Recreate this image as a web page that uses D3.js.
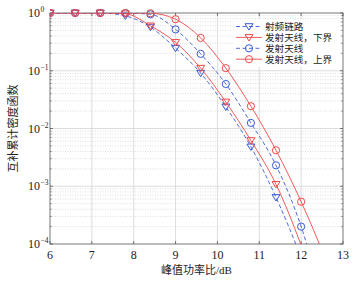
<!DOCTYPE html>
<html><head><meta charset="utf-8">
<script src="https://cdn.jsdelivr.net/npm/d3@7"></script>
<style>body{margin:0;background:#fff}svg{display:block}</style>
</head><body>
<script>
const xValues = [6, 6.6, 7.2, 7.8, 8.4, 9.0, 9.6, 10.2, 10.8, 11.4, 12.0, 12.6];
const rfChain   = [1, 1, 1, 0.89, 0.57, 0.246, 0.091, 0.0237, 0.0048, 0.00064, 0.000056, 0.0000025];
const txLower   = [1, 1, 1, 0.97, 0.60, 0.31, 0.111, 0.0288, 0.0062, 0.00108, 0.000095, 0.000005];
const txAntenna = [1, 1, 1, 0.995, 0.95, 0.52, 0.196, 0.059, 0.0125, 0.0023, 0.0002, 0.000006];
const txUpper   = [1, 1, 1, 1, 0.99, 0.78, 0.37, 0.111, 0.0243, 0.0042, 0.00054, 0.000052];
const seriesNames = ["射频链路", "发射天线，下界", "发射天线", "发射天线，上界"];
const xTicks = [6, 7, 8, 9, 10, 11, 12, 13];
const yTickExps = [0, -1, -2, -3, -4];

const W = 357, H = 282;
const m = {l: 50, r: 343, t: 13, b: 244};
const FONT_CJK = "'Liberation Serif', 'Noto Sans CJK SC'";
const svg = d3.select("body").append("svg").attr("width", W).attr("height", H);
const x = d3.scaleLinear().domain([6, 13]).range([m.l, m.r]);
const y = d3.scaleLog().domain([1e-4, 1]).range([m.b, m.t]);

svg.append("defs").append("clipPath").attr("id", "clip")
  .append("rect").attr("x", m.l).attr("y", m.t - 6).attr("width", m.r - m.l).attr("height", m.b - m.t + 6);
svg.append("defs").append("clipPath").attr("id", "clip2")
  .append("rect").attr("x", m.l).attr("y", m.t).attr("width", m.r - m.l).attr("height", m.b - m.t);

const g = svg.append("g");
for (let e = -4; e < 0; e++) {
  for (let k = 2; k <= 9; k++) {
    const v = k * Math.pow(10, e);
    g.append("line").attr("x1", m.l).attr("x2", m.r).attr("y1", y(v)).attr("y2", y(v))
      .attr("stroke", "#c8c8c8").attr("stroke-width", 0.6).attr("stroke-dasharray", "1,1.5");
  }
}
xTicks.slice(1, -1).forEach(t => {
  g.append("line").attr("x1", x(t)).attr("x2", x(t)).attr("y1", m.t).attr("y2", m.b)
    .attr("stroke", "#d4d4d4").attr("stroke-width", 0.8);
});
yTickExps.slice(1, -1).forEach(e => {
  g.append("line").attr("x1", m.l).attr("x2", m.r).attr("y1", y(Math.pow(10, e))).attr("y2", y(Math.pow(10, e)))
    .attr("stroke", "#d4d4d4").attr("stroke-width", 0.8);
});

const lg = {x: 233, y: 19, w: 106, h: 48};
svg.append("rect").attr("x", lg.x).attr("y", lg.y).attr("width", lg.w).attr("height", lg.h).attr("fill", "#fff");

svg.append("rect").attr("x", m.l).attr("y", m.t).attr("width", m.r - m.l).attr("height", m.b - m.t)
  .attr("fill", "none").attr("stroke", "#555").attr("stroke-width", 0.8);

xTicks.forEach(t => {
  svg.append("line").attr("x1", x(t)).attr("x2", x(t)).attr("y1", m.b).attr("y2", m.b - 3).attr("stroke", "#555").attr("stroke-width", 0.8);
  svg.append("line").attr("x1", x(t)).attr("x2", x(t)).attr("y1", m.t).attr("y2", m.t + 3).attr("stroke", "#555").attr("stroke-width", 0.8);
  svg.append("text").attr("x", x(t)).attr("y", 259).attr("text-anchor", "middle")
    .attr("font-family", "Liberation Serif").attr("font-size", 12).attr("fill", "#222").text(t);
});
yTickExps.forEach(e => {
  const yy = y(Math.pow(10, e));
  svg.append("line").attr("x1", m.l).attr("x2", m.l + 3).attr("y1", yy).attr("y2", yy).attr("stroke", "#555").attr("stroke-width", 0.8);
  svg.append("line").attr("x1", m.r).attr("x2", m.r - 3).attr("y1", yy).attr("y2", yy).attr("stroke", "#555").attr("stroke-width", 0.8);
  svg.append("text").attr("x", 40).attr("y", yy + 4).attr("text-anchor", "end")
    .attr("font-family", "Liberation Serif").attr("font-size", 12).attr("fill", "#222").text("10");
  svg.append("text").attr("x", 40.5).attr("y", yy - 1).attr("text-anchor", "start")
    .attr("font-family", "Liberation Serif").attr("font-size", 7.5).attr("fill", "#222").text(e === 0 ? "0" : "\u2212" + (-e));
});
for (let e = -4; e < 0; e++) {
  for (let k = 2; k <= 9; k++) {
    const yy = y(k * Math.pow(10, e));
    svg.append("line").attr("x1", m.l).attr("x2", m.l + 1.8).attr("y1", yy).attr("y2", yy).attr("stroke", "#555").attr("stroke-width", 0.6);
    svg.append("line").attr("x1", m.r).attr("x2", m.r - 1.8).attr("y1", yy).attr("y2", yy).attr("stroke", "#555").attr("stroke-width", 0.6);
  }
}

svg.append("text").attr("x", (m.l + m.r) / 2).attr("y", 273.5).attr("text-anchor", "middle")
  .attr("font-family", FONT_CJK).attr("font-size", 11).attr("fill", "#222").text("峰值功率比/dB");
svg.append("text").attr("transform", `translate(17,${(m.t + m.b) / 2}) rotate(-90)`).attr("text-anchor", "middle")
  .attr("font-family", FONT_CJK).attr("font-size", 11).attr("fill", "#222").text("互补累计密度函数");

const blue = "#3a5ad6", red = "#f04848";
const series = [
  {name: seriesNames[0], data: rfChain, color: blue, dash: "4,2.5", marker: "tri"},
  {name: seriesNames[1], data: txLower, color: red, dash: null, marker: "tri"},
  {name: seriesNames[2], data: txAntenna, color: blue, dash: "4,2.5", marker: "circ"},
  {name: seriesNames[3], data: txUpper, color: red, dash: null, marker: "circ"}
];
const line = d3.line().x(d => x(d[0])).y(d => y(d[1])).curve(d3.curveMonotoneX);
const plot = svg.append("g").attr("clip-path", "url(#clip)");

function drawMarker(sel, type, cx, cy, color) {
  if (type === "circ") {
    sel.append("circle").attr("cx", cx).attr("cy", cy).attr("r", 3.6)
      .attr("fill", "none").attr("stroke", color).attr("stroke-width", 1);
  } else {
    const s = 4;
    sel.append("path").attr("d", `M${cx - s},${cy - s * 0.7}L${cx + s},${cy - s * 0.7}L${cx},${cy + s * 0.9}Z`)
      .attr("fill", "none").attr("stroke", color).attr("stroke-width", 1);
  }
}

series.forEach(s => {
  const pts = xValues.map((v, i) => [v, s.data[i]]);
  plot.append("path").attr("d", line(pts)).attr("fill", "none").attr("stroke", s.color)
    .attr("stroke-width", 0.9).attr("stroke-dasharray", s.dash).attr("clip-path", "url(#clip2)");
  pts.forEach(p => {
    const cy = y(p[1]);
    if (cy <= m.b + 1) drawMarker(plot, s.marker, x(p[0]), cy, s.color);
  });
});

// legend
series.forEach((s, i) => {
  const yy = 26.5 + i * 10.9;
  svg.append("line").attr("x1", 236).attr("x2", 262).attr("y1", yy).attr("y2", yy)
    .attr("stroke", s.color).attr("stroke-width", 0.9).attr("stroke-dasharray", s.dash);
  drawMarker(svg, s.marker, 249, yy, s.color);
  svg.append("text").attr("x", 265).attr("y", yy + 3.5).attr("font-family", FONT_CJK)
    .attr("font-size", 9.6).attr("fill", "#222").text(s.name);
});
</script>
</body></html>
